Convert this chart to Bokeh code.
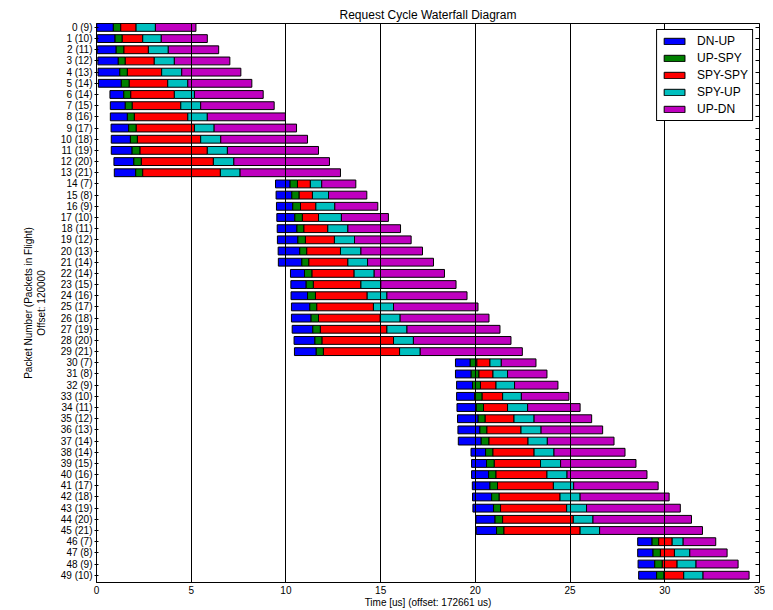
from bokeh.plotting import figure
from bokeh.models import Range1d, LinearAxis, FixedTicker, ColumnDataSource
from bokeh.embed import file_html
from bokeh.resources import INLINE

# ---- data (times in us, offset 172661 us) ----
in_flight = [9, 10, 11, 12, 13, 14, 14, 15, 16, 17, 18, 19, 20, 21,
             7, 8, 9, 10, 11, 12, 13, 14,
             14, 15, 16, 17, 18, 19, 20, 21,
             7, 8, 9, 10, 11, 12, 13, 14,
             14, 15, 16, 17, 18, 19, 20, 21,
             7, 8, 9, 10]

start = [0.01, 0.04, 0.04, 0.07, 0.08, 0.10, 0.71, 0.73, 0.73, 0.77, 0.78, 0.78, 0.92, 0.94,
         9.45, 9.48, 9.50, 9.52, 9.54, 9.55, 9.59, 9.60,
         10.24, 10.26, 10.27, 10.29, 10.29, 10.33, 10.43, 10.45,
         18.95, 18.95, 19.01, 19.01, 19.03, 19.06, 19.08, 19.10,
         19.77, 19.80, 19.80, 19.84, 19.85, 19.87, 20.03, 20.05,
         28.57, 28.57, 28.59, 28.62]

dn_up_end = [0.89, 0.98, 1.04, 1.15, 1.23, 1.31, 1.44, 1.52, 1.63, 1.70, 1.79, 1.88, 1.97, 2.07,
             10.22, 10.31, 10.36, 10.47, 10.58, 10.63, 10.73, 10.84,
             10.98, 11.07, 11.14, 11.26, 11.33, 11.42, 11.53, 11.60,
             19.73, 19.78, 19.85, 19.96, 20.05, 20.15, 20.24, 20.31,
             20.54, 20.59, 20.70, 20.77, 20.86, 20.96, 21.04, 21.12,
             29.33, 29.38, 29.47, 29.57]

up_spy_end = [1.28, 1.36, 1.45, 1.52, 1.63, 1.73, 1.81, 1.89, 2.00, 2.10, 2.16, 2.30, 2.37, 2.44,
              10.61, 10.70, 10.77, 10.87, 10.95, 11.03, 11.10, 11.21,
              11.38, 11.45, 11.56, 11.63, 11.72, 11.82, 11.91, 11.98,
              20.08, 20.19, 20.27, 20.36, 20.43, 20.52, 20.61, 20.72,
              20.93, 21.00, 21.09, 21.17, 21.26, 21.33, 21.44, 21.51,
              29.68, 29.77, 29.87, 29.96]

spy_spy_end = [2.09, 2.44, 2.74, 3.05, 3.44, 3.76, 4.11, 4.45, 4.82, 5.17, 5.50, 5.85, 6.17, 6.54,
               11.29, 11.40, 11.58, 11.72, 12.21, 12.56, 12.88, 13.27,
               13.60, 13.96, 14.29, 14.62, 14.98, 15.33, 15.68, 16.00,
               20.77, 20.93, 21.09, 21.44, 21.70, 22.04, 22.41, 22.78,
               23.10, 23.44, 23.78, 24.12, 24.47, 24.82, 25.17, 25.53,
               30.39, 30.51, 30.65, 31.00]

spy_up_end = [3.11, 3.42, 3.79, 4.11, 4.50, 4.82, 5.17, 5.50, 5.85, 6.21, 6.56, 6.91, 7.25, 7.58,
              11.89, 12.25, 12.58, 12.93, 13.27, 13.62, 13.96, 14.31,
              14.66, 15.01, 15.33, 15.68, 16.03, 16.39, 16.73, 17.09,
              21.37, 21.70, 22.07, 22.43, 22.76, 23.10, 23.47, 23.80,
              24.15, 24.50, 24.84, 25.19, 25.53, 25.87, 26.21, 26.56,
              30.97, 31.32, 31.65, 32.02]

up_dn_end = [5.25, 5.85, 6.45, 7.04, 7.62, 8.20, 8.80, 9.38, 9.97, 10.56, 11.14, 11.72, 12.30, 12.88,
             13.69, 14.27, 14.85, 15.41, 16.05, 16.61, 17.21, 17.79,
             18.37, 18.98, 19.56, 20.14, 20.72, 21.30, 21.88, 22.48,
             23.20, 23.78, 24.36, 24.94, 25.53, 26.14, 26.72, 27.32,
             27.90, 28.48, 29.06, 29.65, 30.23, 30.82, 31.41, 31.99,
             32.69, 33.29, 33.87, 34.45]

segment_names = ["DN-UP", "UP-SPY", "SPY-SPY", "SPY-UP", "UP-DN"]
segment_colors = ["#0000ff", "#008000", "#ff0000", "#00bfbf", "#bf00bf"]
x_ticks = [0, 5, 10, 15, 20, 25, 30, 35]

rows = list(range(len(start)))
row_labels = {i: f"{i} ({n})" for i, n in zip(rows, in_flight)}
bounds = [start, dn_up_end, up_spy_end, spy_spy_end, spy_up_end, up_dn_end]

FONT = "Liberation Sans"

p = figure(width=765, height=610, x_range=Range1d(0, 35), y_range=Range1d(49.65, -0.35),
           output_backend="svg", toolbar_location=None,
           title="Request Cycle Waterfall Diagram",
           min_border_left=96, min_border_right=6, min_border_top=23, min_border_bottom=26)

p.title.align = "center"
p.title.text_font = FONT
p.title.text_font_size = "12px"
p.title.text_font_style = "normal"
p.title.text_color = "black"
p.title.standoff = 4

for k, (name, color) in enumerate(zip(segment_names, segment_colors)):
    src = ColumnDataSource(dict(y=rows, left=bounds[k], right=bounds[k + 1]))
    p.hbar(y="y", left="left", right="right", height=0.7, source=src,
           fill_color=color, line_color="black", line_width=1, legend_label=name)

# axes
xa = p.xaxis[0]
xa.ticker = FixedTicker(ticks=x_ticks)
xa.axis_label = "Time [us] (offset: 172661 us)"
xa.axis_label_text_font = FONT
xa.axis_label_text_font_size = "10px"
xa.axis_label_text_font_style = "normal"
xa.axis_label_text_color = "black"
xa.axis_label_standoff = 0
xa.major_label_text_font = FONT
xa.major_label_text_font_size = "10px"
xa.major_label_text_color = "black"
xa.major_label_standoff = 3
xa.major_tick_in = 0
xa.major_tick_out = 0
xa.minor_tick_line_color = None
xa.axis_line_color = "black"

ya = p.yaxis[0]
ya.ticker = FixedTicker(ticks=rows)
ya.major_label_overrides = row_labels
ya.axis_label = "Packet Number (Packets in Flight)\nOffset: 120000"
ya.axis_label_text_font = FONT
ya.axis_label_text_font_size = "10px"
ya.axis_label_text_font_style = "normal"
ya.axis_label_text_color = "black"
ya.axis_label_standoff = 11
ya.major_label_text_font = FONT
ya.major_label_text_font_size = "10px"
ya.major_label_text_color = "black"
ya.major_label_standoff = 2
ya.major_tick_in = 2
ya.major_tick_out = 2
ya.major_tick_line_color = "black"
ya.minor_tick_line_color = None
ya.axis_line_color = "black"

ra = LinearAxis(ticker=FixedTicker(ticks=rows), major_label_text_color=None,
                major_tick_in=4, major_tick_out=0, minor_tick_line_color=None,
                major_tick_line_color="black",
                major_label_standoff=0, axis_line_color="black")
p.add_layout(ra, "right")

# grid
p.ygrid.visible = False
p.xgrid.ticker = FixedTicker(ticks=x_ticks)
p.xgrid.grid_line_color = "black"
p.xgrid.grid_line_alpha = 1.0
p.xgrid.grid_line_width = 1
p.xgrid.level = "guide"

p.outline_line_color = "black"
p.outline_line_alpha = 1.0

# legend
lg = p.legend[0]
lg.location = "top_right"
lg.margin = 6
lg.padding = 4
lg.spacing = 3
lg.glyph_width = 26
lg.glyph_height = 8
lg.label_height = 12
lg.label_standoff = 10
lg.label_text_font = FONT
lg.label_text_font_size = "12px"
lg.label_text_color = "black"
lg.border_line_color = "black"
lg.border_line_alpha = 1.0
lg.background_fill_alpha = 1.0

open("out.html", "w").write(file_html(p, INLINE))
